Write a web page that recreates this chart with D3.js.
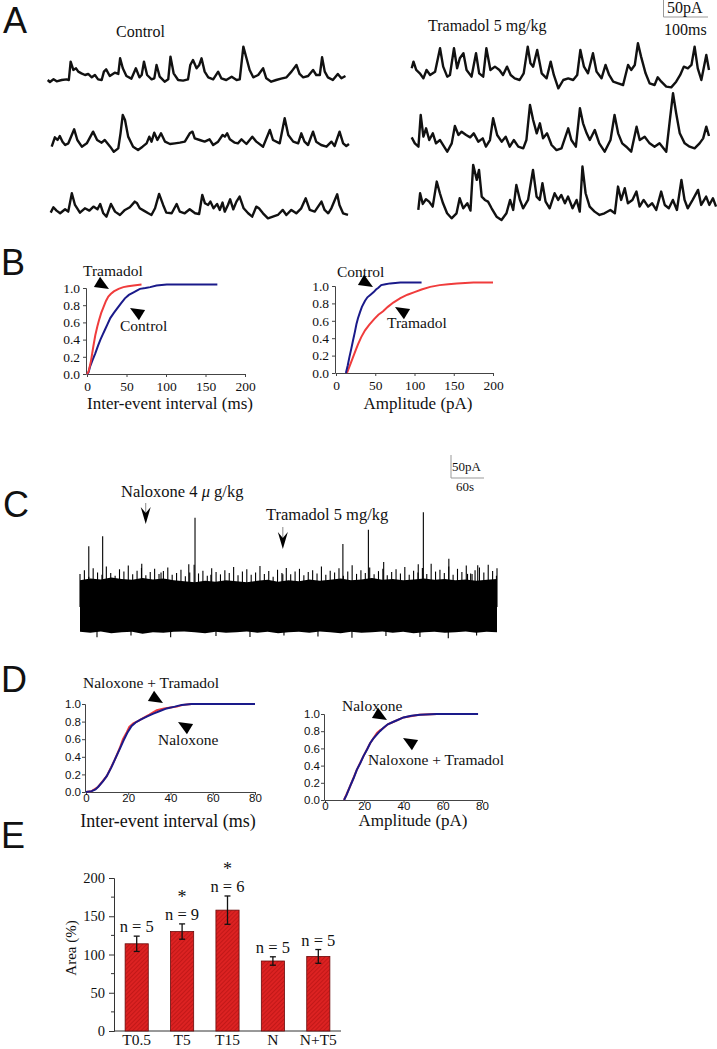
<!DOCTYPE html>
<html><head><meta charset="utf-8">
<script src="https://cdn.jsdelivr.net/npm/d3@7"></script>
<style>
body{margin:0;background:#fff}
svg{display:block}
text{font-family:"Liberation Serif","Times New Roman",serif;fill:#111}
.sans{font-family:"Liberation Sans",Arial,sans-serif}
</style></head><body>
<svg id="fig" width="717" height="1049"></svg>
<script>
// ---------- DATA ----------
// Panel A: sIPSC traces, [time ms, current pA above baseline]
const controlTrace1 = [[0,0],[5,-6],[13,2],[20,-4],[31,0],[42,2],[47,0],[51,55],[57,30],[63,35],[68,25],[75,20],[83,15],[90,18],[98,8],[105,15],[112,2],[120,0],[125,25],[130,32],[138,12],[149,22],[157,18],[161,65],[167,35],[175,12],[186,4],[196,35],[204,8],[209,15],[214,55],[221,15],[231,2],[237,5],[242,45],[249,10],[260,-5],[268,2],[273,70],[280,20],[290,0],[301,-2],[312,2],[317,45],[323,60],[331,35],[337,45],[342,65],[349,25],[357,8],[368,2],[379,25],[386,5],[397,0],[409,10],[420,0],[427,2],[435,100],[442,65],[449,30],[457,8],[468,15],[479,35],[486,5],[497,-5],[508,0],[519,4],[531,8],[542,25],[553,45],[560,18],[568,8],[579,12],[590,30],[597,15],[605,15],[610,68],[616,25],[623,8],[634,0],[645,18],[653,5],[662,12]];
const controlTrace2 = [[0,-5],[7,23],[13,15],[18,27],[24,10],[30,0],[37,5],[50,47],[57,15],[67,-5],[78,5],[92,40],[101,15],[111,7],[118,15],[130,-5],[138,-20],[148,-10],[153,35],[158,90],[163,75],[170,25],[181,-5],[192,-15],[202,-5],[211,5],[217,25],[222,10],[228,37],[235,15],[243,35],[252,10],[263,3],[274,5],[285,7],[296,10],[307,35],[313,40],[318,20],[329,15],[340,10],[351,17],[359,0],[370,10],[380,30],[385,25],[390,35],[396,17],[407,7],[414,5],[422,17],[433,3],[446,25],[455,10],[470,-5],[485,45],[492,15],[507,5],[518,80],[526,30],[537,10],[548,5],[555,35],[562,10],[570,0],[581,40],[588,10],[599,0],[611,-5],[622,10],[629,-3],[640,40],[648,5],[655,-3],[661,3]];
const controlTrace3 = [[0,2],[6,18],[13,8],[21,0],[32,12],[39,5],[47,60],[54,25],[65,2],[76,15],[86,8],[95,20],[104,12],[110,28],[117,0],[124,-10],[134,28],[143,5],[154,-5],[165,10],[176,18],[187,35],[192,30],[198,15],[207,8],[217,0],[224,-5],[232,15],[241,58],[250,25],[257,2],[269,0],[280,28],[287,5],[298,0],[309,12],[321,0],[330,-2],[337,55],[343,30],[350,25],[355,35],[362,15],[370,28],[376,10],[382,32],[387,5],[394,25],[399,42],[406,12],[413,35],[420,50],[429,15],[439,0],[448,-10],[457,20],[463,15],[472,0],[483,-15],[494,-10],[505,-5],[516,10],[524,-5],[535,10],[546,0],[557,15],[567,45],[576,10],[587,5],[602,35],[609,10],[617,0],[624,15],[637,57],[642,25],[650,0],[661,-5]];
const tramadolTrace1 = [[0,35],[4,55],[10,30],[18,20],[26,5],[33,30],[41,15],[52,25],[63,95],[70,40],[79,10],[85,15],[94,95],[101,35],[107,65],[115,80],[122,30],[133,10],[143,80],[150,20],[159,10],[166,95],[175,30],[185,40],[195,30],[203,15],[212,40],[220,15],[229,5],[240,0],[249,20],[258,100],[264,50],[270,40],[279,90],[289,20],[300,5],[309,55],[316,15],[326,-25],[337,0],[348,5],[359,0],[368,15],[375,90],[383,40],[392,20],[403,80],[411,25],[422,5],[431,45],[439,15],[448,-5],[459,-10],[470,-15],[481,45],[488,30],[496,45],[503,110],[510,70],[520,20],[529,-10],[540,-15],[547,8],[555,-5],[566,-20],[577,-22],[588,-5],[597,15],[605,40],[614,35],[622,45],[629,100],[636,35],[644,0],[655,75],[661,30]];
const tramadolTrace2 = [[0,28],[7,10],[15,0],[20,95],[26,30],[32,55],[39,20],[47,40],[54,10],[63,20],[72,0],[79,-15],[89,10],[96,62],[104,35],[111,45],[121,35],[130,28],[138,40],[148,15],[158,25],[165,0],[174,20],[181,85],[190,35],[200,15],[209,30],[218,0],[227,20],[237,0],[248,-5],[255,20],[263,125],[270,80],[278,40],[285,70],[292,25],[301,40],[311,5],[322,-10],[333,-5],[348,55],[355,20],[365,0],[374,115],[381,70],[389,40],[396,20],[407,50],[417,10],[429,-15],[442,20],[451,95],[459,40],[468,10],[477,0],[488,-15],[500,60],[507,20],[518,30],[529,10],[540,0],[551,10],[566,-15],[574,80],[581,160],[588,100],[596,40],[607,10],[618,0],[629,-5],[640,10],[648,25],[655,60],[661,32]];
const tramadolTrace3 = [[0,10],[4,60],[10,28],[17,42],[24,35],[32,20],[41,95],[48,60],[55,30],[64,0],[74,-15],[85,0],[92,45],[100,15],[109,30],[116,8],[122,145],[130,100],[135,130],[141,50],[148,40],[155,35],[163,15],[174,-10],[185,-20],[196,0],[204,40],[211,10],[218,85],[226,40],[233,15],[244,40],[255,130],[263,50],[270,40],[276,90],[283,35],[292,15],[303,60],[311,40],[318,55],[326,30],[333,50],[343,15],[352,40],[359,5],[365,140],[372,60],[381,20],[392,5],[403,-5],[414,0],[427,10],[437,0],[444,80],[451,40],[459,75],[466,30],[476,40],[485,65],[492,20],[501,40],[511,20],[520,30],[529,10],[540,65],[548,25],[557,15],[566,40],[575,10],[585,100],[592,40],[599,15],[610,40],[622,70],[629,25],[640,50],[647,25],[655,45],[662,20]];

// Panel B: cumulative fractions
const bIntervalTramadol = [[0,0],[2,0.03],[5,0.15],[8,0.32],[10.5,0.45],[13,0.55],[15,0.62],[18,0.71],[21,0.78],[24,0.85],[27,0.9],[30,0.93],[34,0.96],[40,0.99],[46,1.01],[52,1.02],[59,1.03],[69,1.04]];
const bIntervalControl = [[0,0],[2,0.02],[4,0.09],[7,0.16],[10.5,0.24],[14,0.33],[17,0.4],[20,0.46],[23,0.52],[26,0.58],[29.5,0.65],[34,0.71],[38,0.76],[43,0.82],[48,0.88],[53,0.92],[59,0.95],[63,0.97],[67,0.99],[74,1.0],[80,1.01],[88,1.03],[101,1.04],[165,1.04]];
const bAmpControl = [[12.6,0],[15,0.09],[17,0.18],[19.5,0.28],[21.6,0.37],[24,0.47],[26,0.56],[28,0.63],[30.6,0.7],[33,0.76],[37,0.83],[40,0.87],[44,0.9],[48,0.93],[51,0.96],[54,0.98],[57.6,1.01],[63,1.02],[69,1.03],[82,1.04],[109,1.04]];
const bAmpTramadol = [[14,0],[17,0.07],[21.6,0.18],[25,0.26],[28,0.33],[32,0.41],[37,0.49],[42,0.55],[48.6,0.62],[54,0.67],[60,0.71],[66,0.76],[73,0.81],[82,0.86],[91,0.9],[100,0.93],[109,0.96],[120,0.99],[132,1.01],[143,1.02],[154,1.03],[175,1.04],[200,1.04]];

// Panel C: continuous recording (time s, current pA)
const cUpperEnvelope = [58,62,60,64,61,59,63,60,62,58,56,54,57,55,58,56,54,57,59,55,58,56,60,57,59,62,58,60,63,59,61,58,60,62,59,61,58,60,57,59,61];
const cLowerEnvelope = [-54,-56,-53,-57,-55,-54,-58,-55,-56,-54,-53,-55,-57,-54,-56,-55,-53,-56,-54,-57,-55,-54,-56,-53,-55,-57,-54,-56,-55,-53,-56,-54,-57,-55,-54,-56,-55,-53,-56,-54,-55];
const cLargeEvents = [[15.5,132],[40,154],[109,94],[143,75],[192,93],[203,194],[231,70],[358,71],[464,137],[509,168],[536,98],[597,93],[606,206],[651,105],[684,72],[692,72],[702,91],[735,68]];
const cNoisePeaks = [72,80,66,84,75,70,88,74,68,82,77,90,71,79,85,69,76,83,72,78,86,70,74,81,67,75,92,73,79,68,84,76,71,80,74,87,69,77,82,70,75,89,72,78,66,81,74,85,71,77,83,69,76,80,73,88,70,79,75,84,68,77,91,72,80,74,86,71,78,83,69,76,82,73,87,70,79,75,85,72,94,77,81,74,88,70,83,76,90,73,80,86,75,92,78,84];
const cDips = [[30,-66],[90,-62],[160,-66],[240,-63],[300,-65],[360,-62],[420,-64],[480,-67],[540,-63],[600,-65],[650,-68],[700,-62]];
const cDrugTimes = [116, 358];
const cDrugLabels = ["Naloxone 4 ", "Tramadol 5 mg/kg"];

// Panel D
const dIntervalNaloxone = [[0,0],[2.7,0.01],[4.5,0.03],[5.8,0.06],[8,0.12],[9.8,0.18],[12,0.28],[13.7,0.37],[16,0.49],[17.7,0.58],[19.5,0.67],[21.6,0.75],[23.5,0.79],[25.6,0.82],[29,0.86],[31.9,0.89],[35,0.92],[38.2,0.95],[42,0.97],[45.3,0.99],[50,1.0],[60,1.0],[80,1.0]];
const dIntervalNalTram = [[0,0],[2.7,0.01],[5.8,0.06],[9.8,0.18],[13.7,0.37],[16,0.5],[17.5,0.6],[19.3,0.68],[20.5,0.74],[22.4,0.78],[25,0.81],[27,0.84],[30,0.88],[33.5,0.93],[37,0.95],[40,0.96],[43,0.97],[46,0.99],[50,1.0]];
const dAmpNaloxone = [[9.7,0],[11,0.06],[12.8,0.16],[14.5,0.25],[16.2,0.35],[18,0.43],[19.6,0.51],[21.5,0.59],[23,0.66],[24.5,0.71],[26.4,0.76],[28,0.8],[29.8,0.84],[32,0.88],[34.9,0.91],[37,0.93],[40,0.96],[44,0.98],[48.5,0.99],[57,1.0],[78,1.0]];
const dAmpNalTram = [[9.7,0],[12.8,0.16],[16.2,0.35],[19.6,0.51],[23,0.66],[25,0.73],[26.5,0.78],[28,0.81],[30,0.84],[32,0.88],[35,0.91],[40,0.96],[48,0.99],[57,1.0]];

// Panel E
const eCategories = ["T0.5","T5","T15","N","N+T5"];
const eValues = [114,130,158,91.5,97.5];
const eErrors = [10,10,18.5,5.5,9];
const eNLabels = ["n = 5","n = 9","n = 6","n = 5","n = 5"];
const eSignificant = [false,true,true,false,false];
const eTicks = [0,50,100,150,200];

// ---------- DRAWING ----------
const svg = d3.select('#fig');
svg.append('rect').attr('width',717).attr('height',1049).attr('fill','#fff');

function letter(t,x,y){ svg.append('text').attr('class','sans').attr('x',x).attr('y',y).attr('font-size',36).text(t); }
letter('A',3,33); letter('B',1,275); letter('C',3,517); letter('D',1,692); letter('E',1,848);

// ---- Panel A ----
function drawTrace(data,x0,baseY){
  const x = d3.scaleLinear().domain([0,667]).range([x0,x0+300]);
  const y = d3.scaleLinear().domain([0,50]).range([baseY,baseY-16.7]);
  svg.append('path').datum(data)
    .attr('d',d3.line().x(d=>x(d[0])).y(d=>y(d[1])))
    .attr('fill','none').attr('stroke','#111').attr('stroke-width',2.4)
    .attr('stroke-linejoin','round');
}
drawTrace(controlTrace1,47.7,80);
drawTrace(controlTrace2,51.7,145);
drawTrace(controlTrace3,50.7,213.3);
drawTrace(tramadolTrace1,411.7,80);
drawTrace(tramadolTrace2,411.7,146.7);
drawTrace(tramadolTrace3,418.3,213.3);
svg.append('text').attr('x',116).attr('y',37).attr('font-size',16).text('Control');
svg.append('text').attr('x',428).attr('y',31).attr('font-size',16).text('Tramadol 5 mg/kg');
svg.append('line').attr('x1',663.5).attr('x2',663.5).attr('y1',0).attr('y2',17).attr('stroke','#999').attr('stroke-width',1);
svg.append('line').attr('x1',663.5).attr('x2',708).attr('y1',17).attr('y2',17).attr('stroke','#999').attr('stroke-width',1);
svg.append('text').attr('x',667).attr('y',13).attr('font-size',16).text('50pA');
svg.append('text').attr('x',664).attr('y',35).attr('font-size',16).text('100ms');

// ---- helpers ----
function arrowHead(tipX,tipY,dx,dy){
  const len=Math.hypot(dx,dy), ux=dx/len, uy=dy/len, L=14, W=6;
  const bx=tipX-ux*L, by=tipY-uy*L;
  svg.append('path').attr('d',`M${tipX},${tipY}L${bx-uy*W},${by+ux*W}L${bx+uy*W},${by-ux*W}Z`).attr('fill','#000');
}
function cdfPanel(opt){
  const x=d3.scaleLinear().domain(opt.xd).range(opt.xr);
  const y=d3.scaleLinear().domain([0,1]).range(opt.yr);
  const g=svg.append('g');
  const ya=g.append('g').attr('transform',`translate(${opt.xr[0]-1},0)`)
    .call(d3.axisLeft(y).tickValues([0,0.2,0.4,0.6,0.8,1]).tickFormat(d3.format('.1f')).tickSize(3).tickPadding(opt.sans?1:3));
  const xa=g.append('g').attr('transform',`translate(0,${opt.yr[0]})`)
    .call(d3.axisBottom(x).tickValues(opt.xt).tickSize(3).tickPadding(opt.sans?-1:4));
  [ya,xa].forEach(a=>{
    a.select('.domain').attr('stroke','#444');
    a.selectAll('.tick line').attr('stroke','#444');
    a.selectAll('.tick text').attr('font-size',opt.sans?11.5:13.5).attr('fill','#222')
      .style('font-family',opt.sans?'"Liberation Sans",Arial,sans-serif':'"Liberation Serif","Times New Roman",serif');
  });
  const line=d3.line().x(d=>x(d[0])).y(d=>y(d[1]));
  opt.series.forEach(s=>{
    g.append('path').datum(s.data).attr('d',line).attr('fill','none').attr('stroke',s.color).attr('stroke-width',2);
  });
  g.append('text').attr('x',opt.titleX).attr('y',opt.titleY).attr('text-anchor','middle').attr('font-size',opt.titleSize).text(opt.title);
  opt.labels.forEach(l=>{
    g.append('text').attr('x',l.x).attr('y',l.y).attr('font-size',l.size||15.5).text(l.text);
    arrowHead(l.ax,l.ay,l.dx,l.dy);
  });
}
const RED='#f03c3c', BLUE='#1a1a8a';

// ---- Panel B ----
cdfPanel({xd:[0,200],xr:[87,245],yr:[374,288],xt:[0,50,100,150,200],
  series:[{data:bIntervalControl,color:BLUE},{data:bIntervalTramadol,color:RED}],
  title:'Inter-event interval (ms)',titleX:170,titleY:409,titleSize:17,
  labels:[{text:'Tramadol',x:83,y:276,ax:109,ay:289,dx:1,dy:0.6},
          {text:'Control',x:120,y:331,ax:130,ay:308,dx:-1,dy:-0.6}]});
cdfPanel({xd:[0,200],xr:[336,493],yr:[373,286],xt:[0,50,100,150,200],
  series:[{data:bAmpTramadol,color:RED},{data:bAmpControl,color:BLUE}],
  title:'Amplitude (pA)',titleX:418,titleY:409,titleSize:17,
  labels:[{text:'Control',x:337,y:277,ax:373,ay:287,dx:1,dy:0.6},
          {text:'Tramadol',x:387,y:328,ax:395,ay:307,dx:-1,dy:-0.6}]});

// ---- Panel C ----
const cx=d3.scaleLinear().domain([0,736]).range([80,497]);
const cy=d3.scaleLinear().domain([0,50]).range([607,584]);
const step=736/(cUpperEnvelope.length-1);
svg.append('path').datum(cUpperEnvelope)
  .attr('d',d3.area().x((d,i)=>cx(i*step)).y0((d,i)=>cy(cLowerEnvelope[i])).y1(d=>cy(d)))
  .attr('fill','#000');
const nStep=736/(cNoisePeaks.length-1);
const noisePts=cNoisePeaks.map((v,i)=>[i*nStep,v]);
svg.selectAll('.cev').data(noisePts.concat(cLargeEvents,cDips)).enter().append('line')
  .attr('x1',d=>cx(d[0])).attr('x2',d=>cx(d[0])).attr('y1',cy(0)).attr('y2',d=>cy(d[1]))
  .attr('stroke','#000').attr('stroke-width',1.1);
cDrugTimes.forEach((t,i)=>{
  const x=cx(t);
  const top= i===0?503:527, tip= i===0?524:549;
  svg.append('line').attr('x1',x).attr('x2',x).attr('y1',top).attr('y2',tip-6).attr('stroke','#888').attr('stroke-width',1);
  svg.append('path').attr('d',`M${x},${tip}L${x-5},${tip-17}L${x},${tip-11}L${x+5},${tip-17}Z`).attr('fill','#000');
});
const nt=svg.append('text').attr('x',121).attr('y',497).attr('font-size',16.5);
nt.append('tspan').text(cDrugLabels[0]);
nt.append('tspan').attr('font-style','italic').text('μ');
nt.append('tspan').text(' g/kg');
svg.append('text').attr('x',266).attr('y',520).attr('font-size',16.5).text(cDrugLabels[1]);
svg.append('line').attr('x1',451).attr('x2',451).attr('y1',455).attr('y2',478).attr('stroke','#999');
svg.append('line').attr('x1',451).attr('x2',484).attr('y1',478).attr('y2',478).attr('stroke','#999');
svg.append('text').attr('x',452).attr('y',471).attr('font-size',13).text('50pA');
svg.append('text').attr('x',456).attr('y',491).attr('font-size',13).text('60s');

// ---- Panel D ----
cdfPanel({xd:[0,80],xr:[86,255],yr:[792,704],xt:[0,20,40,60,80],sans:true,
  series:[{data:dIntervalNalTram,color:RED},{data:dIntervalNaloxone,color:BLUE}],
  title:'Inter-event interval (ms)',titleX:168,titleY:827,titleSize:18,
  labels:[{text:'Naloxone + Tramadol',x:83,y:688,ax:163,ay:703,dx:1,dy:0.6},
          {text:'Naloxone',x:158,y:745,ax:178,ay:722,dx:-1,dy:-0.6}]});
cdfPanel({xd:[0,80],xr:[325,482],yr:[800,714],xt:[0,20,40,60,80],sans:true,
  series:[{data:dAmpNalTram,color:RED},{data:dAmpNaloxone,color:BLUE}],
  title:'Amplitude (pA)',titleX:413,titleY:826,titleSize:17,
  labels:[{text:'Naloxone',x:342,y:711,ax:387,ay:720,dx:1,dy:0.6},
          {text:'Naloxone + Tramadol',x:368,y:765,ax:403,ay:738,dx:-1,dy:-0.6}]});

// ---- Panel E ----
const defs=svg.append('defs');
const pat=defs.append('pattern').attr('id','hatch').attr('patternUnits','userSpaceOnUse')
  .attr('width',3).attr('height',3).attr('patternTransform','rotate(45)');
pat.append('rect').attr('width',3).attr('height',3).attr('fill','#dc2222');
pat.append('line').attr('x1',0).attr('x2',0).attr('y1',0).attr('y2',3).attr('stroke','#a80d0d').attr('stroke-width',1);
const ex=d3.scaleBand().domain(eCategories).range([114,341]).paddingInner(0.49).paddingOuter(0.245);
const ey=d3.scaleLinear().domain([0,200]).range([1031,878]);
const eg=svg.append('g');
const eya=eg.append('g').attr('transform','translate(114,0)')
  .call(d3.axisLeft(ey).tickValues(eTicks).tickSize(5).tickPadding(4));
eya.selectAll('.tick text').attr('font-size',14.5).style('font-family','"Liberation Serif","Times New Roman",serif').attr('fill','#111');
eya.select('.domain').attr('stroke','#333');
eya.selectAll('.tick line').attr('stroke','#333');
eg.selectAll('.minor').data([25,75,125,175]).enter().append('line')
  .attr('x1',111).attr('x2',114).attr('y1',d=>ey(d)).attr('y2',d=>ey(d)).attr('stroke','#333');
eg.append('line').attr('x1',114).attr('x2',341).attr('y1',ey(0)).attr('y2',ey(0)).attr('stroke','#333');
eg.selectAll('.bar').data(eValues).enter().append('rect')
  .attr('x',(d,i)=>ex(eCategories[i])).attr('width',ex.bandwidth())
  .attr('y',d=>ey(d)).attr('height',d=>ey(0)-ey(d))
  .attr('fill','url(#hatch)').attr('stroke','#6a0a0a').attr('stroke-width',0.8);
eValues.forEach((v,i)=>{
  const c=ex(eCategories[i])+ex.bandwidth()/2, t=ey(v+eErrors[i]), b=ey(v-eErrors[i]);
  eg.append('line').attr('x1',c).attr('x2',c).attr('y1',t).attr('y2',b).attr('stroke','#111').attr('stroke-width',1.3);
  [t,b].forEach(yy=>eg.append('line').attr('x1',c-3).attr('x2',c+3).attr('y1',yy).attr('y2',yy).attr('stroke','#111').attr('stroke-width',1.3));
  eg.append('text').attr('x',c).attr('y',t-4).attr('text-anchor','middle').attr('font-size',16.5).text(eNLabels[i]);
  if(eSignificant[i]) eg.append('text').attr('x',c).attr('y',t-21).attr('text-anchor','middle').attr('font-size',18).text('*');
  eg.append('text').attr('x',c).attr('y',1045).attr('text-anchor','middle').attr('font-size',15.5).text(eCategories[i]);
});
eg.append('text').attr('transform','translate(76,948) rotate(-90)').attr('text-anchor','middle').attr('font-size',15).text('Area (%)');
</script>
</body></html>
